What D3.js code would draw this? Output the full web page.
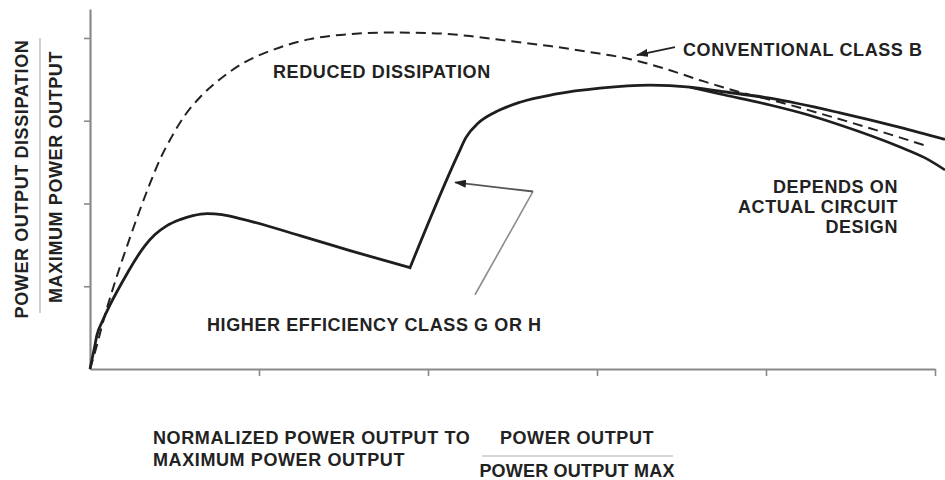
<!DOCTYPE html>
<html>
<head>
<meta charset="utf-8">
<script src="https://cdn.jsdelivr.net/npm/d3@7"></script>
<style>
  html, body { margin: 0; padding: 0; background: #fff; }
  svg { display: block; }
  text { font-family: "Liberation Sans", Arial, Helvetica, sans-serif; font-weight: bold; fill: #222; }
</style>
</head>
<body>
<svg id="chart" width="945" height="480"></svg>
<script>
// Normalized power output (P / Pmax) and dissipation (Pdiss / Pmax)

// Conventional class B amplifier
const classBOutput = [0, 0.0083, 0.0154, 0.0237, 0.0355, 0.0473, 0.0592, 0.071, 0.0828, 0.097,
  0.1124, 0.1302, 0.1538, 0.1834, 0.2189, 0.2604, 0.3077, 0.355, 0.4024, 0.4497, 0.497,
  0.5444, 0.5917, 0.6391, 0.6746, 0.7219, 0.7692, 0.8166, 0.8757, 0.9349, 0.9917];
const classBDissipation = [0, 0.0291, 0.0569, 0.086, 0.1236, 0.1587, 0.1927, 0.2242, 0.2532, 0.2811,
  0.3066, 0.3284, 0.3502, 0.3708, 0.3865, 0.3986, 0.4047, 0.4065, 0.4059, 0.4023, 0.3962,
  0.3902, 0.3829, 0.3744, 0.3647, 0.349, 0.3344, 0.3223, 0.3053, 0.2872, 0.269];

// Higher efficiency class G / H amplifier (supply rail switches at switchOutput)
const classGOutput = [0, 0.0047, 0.0083, 0.0154, 0.0237, 0.0331, 0.0438, 0.0544, 0.0651, 0.0769,
  0.0911, 0.1065, 0.1219, 0.1385, 0.1562, 0.1775, 0.2485, 0.3077, 0.3787,
  0.4355, 0.445, 0.4592, 0.4793, 0.5089, 0.5503, 0.6036, 0.6627, 0.7101, 0.7456, 0.8047,
  0.8876, 0.9586, 1.0118];
const classGDissipation = [0, 0.023, 0.0412, 0.0594, 0.0775, 0.0957, 0.1151, 0.1333, 0.149, 0.1624,
  0.1733, 0.1805, 0.1854, 0.1878, 0.1866, 0.1818, 0.1612, 0.143, 0.1224,
  0.2593, 0.2799, 0.2969, 0.3102, 0.3223, 0.332, 0.3393, 0.3429, 0.3405, 0.3356, 0.3272,
  0.3095, 0.292, 0.2775];
const switchOutput = 0.3787;

// Alternative high-power branch (depends on actual circuit design)
const altOutput = [0.7101, 0.7456, 0.8047, 0.8462, 0.8876, 0.9586, 0.9882, 1.0118];
const altDissipation = [0.3405, 0.3323, 0.319, 0.3081, 0.2948, 0.2682, 0.255, 0.2405];

// Unlabelled tick positions
const xTicks = [0.2, 0.4, 0.6, 0.8, 1.0];
const yTicks = [0.1, 0.2, 0.3, 0.4];

const svg = d3.select("#chart");
const x = d3.scaleLinear().domain([0, 1]).range([90, 935]);
const y = d3.scaleLinear().domain([0, 0.435]).range([369, 9]);

// Axes
const axisColor = "#8a8a8a";
const gx = svg.append("g").attr("transform", `translate(0,${y(0)})`)
  .call(d3.axisBottom(x).tickValues(xTicks).tickFormat("").tickSizeInner(7).tickSizeOuter(0));
const gy = svg.append("g").attr("transform", `translate(${x(0)},0)`)
  .call(d3.axisLeft(y).tickValues(yTicks).tickFormat("").tickSizeInner(6).tickSizeOuter(0));
[gx, gy].forEach(g => {
  g.select(".domain").attr("stroke", axisColor).attr("stroke-width", 2.2);
  g.selectAll(".tick line").attr("stroke", axisColor).attr("stroke-width", 1.6);
});

const pts = (xs, ys) => xs.map((v, i) => [v, ys[i]]);
const line = d3.line().x(d => x(d[0])).y(d => y(d[1])).curve(d3.curveMonotoneX);

// Class B dashed curve
svg.append("path")
  .datum(pts(classBOutput, classBDissipation))
  .attr("d", line)
  .attr("fill", "none").attr("stroke", "#222").attr("stroke-width", 2)
  .attr("stroke-dasharray", "10,6");

// Class G/H curve: smooth segments joined by a sharp corner at the switch point
const gPts = pts(classGOutput, classGDissipation);
const lowSeg = gPts.filter(d => d[0] <= switchOutput);
const highSeg = gPts.filter(d => d[0] >= switchOutput);
svg.append("path")
  .attr("d", line(lowSeg) + line(highSeg).replace(/^M/, "L"))
  .attr("fill", "none").attr("stroke", "#1e1e1e").attr("stroke-width", 2.8)
  .attr("stroke-linejoin", "miter");
svg.append("path")
  .datum(pts(altOutput, altDissipation))
  .attr("d", line)
  .attr("fill", "none").attr("stroke", "#1e1e1e").attr("stroke-width", 2.6);

// Arrowhead marker (tip at the end of the line)
const defs = svg.append("defs");
defs.append("marker")
  .attr("id", "head").attr("viewBox", "0 0 12 8").attr("refX", 11).attr("refY", 4)
  .attr("markerWidth", 12).attr("markerHeight", 8).attr("orient", "auto")
  .attr("markerUnits", "userSpaceOnUse")
  .append("path").attr("d", "M0,0 L12,4 L0,8 Z").attr("fill", "#222");

// Arrow pointing at the class B curve
svg.append("line")
  .attr("x1", x(0.6923)).attr("y1", y(0.3889))
  .attr("x2", x(0.6473)).attr("y2", y(0.3793))
  .attr("stroke", "#222").attr("stroke-width", 1.8)
  .attr("marker-end", "url(#head)");

// Leader from the class G/H caption to its curve
svg.append("line")
  .attr("x1", x(0.4556)).attr("y1", y(0.0897))
  .attr("x2", x(0.5243)).attr("y2", y(0.2145))
  .attr("stroke", "#8c8c8c").attr("stroke-width", 1.6);
svg.append("line")
  .attr("x1", x(0.5243)).attr("y1", y(0.2145))
  .attr("x2", x(0.432)).attr("y2", y(0.2254))
  .attr("stroke", "#555").attr("stroke-width", 1.8)
  .attr("marker-end", "url(#head)");

// Annotations
const label = (txt, px, py, anchor) => svg.append("text")
  .attr("x", px).attr("y", py).attr("text-anchor", anchor || "start")
  .attr("font-size", 18).attr("letter-spacing", 0.6).text(txt);

label("REDUCED DISSIPATION", 273, 78);
label("CONVENTIONAL CLASS B", 683, 56);
label("DEPENDS ON", 898, 193, "end");
label("ACTUAL CIRCUIT", 898, 213, "end");
label("DESIGN", 898, 233, "end");
label("HIGHER EFFICIENCY CLASS G OR H", 207, 331);

// Y axis title as a fraction
svg.append("text").attr("transform", "translate(28,179) rotate(-90)")
  .attr("text-anchor", "middle").attr("font-size", 18).attr("letter-spacing", 0.6)
  .text("POWER OUTPUT DISSIPATION");
svg.append("line").attr("x1", 40).attr("x2", 40).attr("y1", 38).attr("y2", 313)
  .attr("stroke", "#b0b0b0").attr("stroke-width", 1.2);
svg.append("text").attr("transform", "translate(62,177) rotate(-90)")
  .attr("text-anchor", "middle").attr("font-size", 18).attr("letter-spacing", 0.6)
  .text("MAXIMUM POWER OUTPUT");

// X axis title
label("NORMALIZED POWER OUTPUT TO", 153, 444);
label("MAXIMUM POWER OUTPUT", 153, 466);
svg.append("text").attr("x", 577).attr("y", 444).attr("text-anchor", "middle")
  .attr("font-size", 18).attr("letter-spacing", 0.6).text("POWER OUTPUT");
svg.append("line").attr("x1", 482).attr("x2", 673).attr("y1", 456).attr("y2", 456)
  .attr("stroke", "#b0b0b0").attr("stroke-width", 1.2);
svg.append("text").attr("x", 577).attr("y", 477).attr("text-anchor", "middle")
  .attr("font-size", 18).attr("letter-spacing", 0.2).text("POWER OUTPUT MAX");
</script>
</body>
</html>
